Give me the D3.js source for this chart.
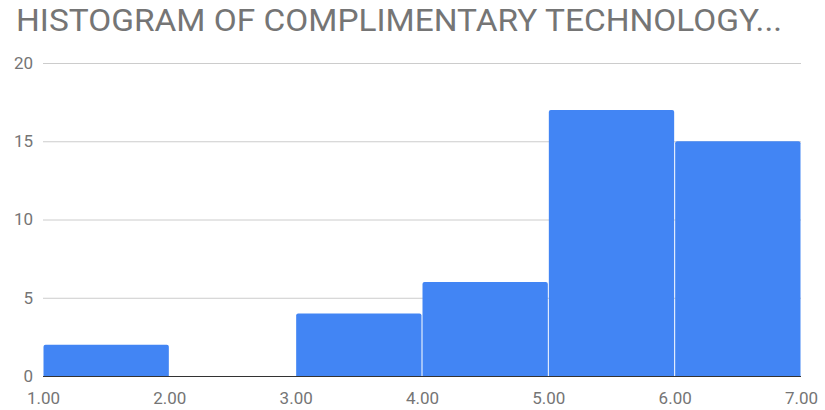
<!DOCTYPE html>
<html><head><meta charset="utf-8">
<script src="https://cdn.jsdelivr.net/npm/d3@7"></script>
<style>body{margin:0;background:#fff}svg{display:block}</style>
</head><body>
<svg id="c" width="825" height="410"></svg>
<script>
const title = "HISTOGRAM OF COMPLIMENTARY TECHNOLOGY...";
const binStarts = [1, 2, 3, 4, 5, 6];
const binEnds = [2, 3, 4, 5, 6, 7];
const counts = [2, 0, 4, 6, 17, 15];
const yTicks = [0, 5, 10, 15, 20];
const xTicks = [1, 2, 3, 4, 5, 6, 7];

const svg = d3.select("#c");
const x = d3.scaleLinear().domain([1, 7]).range([43, 801]);
const y = d3.scaleLinear().domain([0, 20]).range([376, 63]);
const font = "Roboto, 'Noto Sans', sans-serif";

svg.append("text").attr("x", 16).attr("y", 31)
  .attr("font-family", font).attr("font-size", 32).attr("fill", "#757575")
  .attr("textLength", 766).attr("lengthAdjust", "spacingAndGlyphs")
  .text(title);

const yAxis = svg.append("g").attr("transform", "translate(43,0)")
  .call(d3.axisLeft(y).tickValues(yTicks).tickSize(-758).tickFormat(d3.format("d")));
yAxis.select(".domain").remove();
yAxis.selectAll(".tick line").attr("stroke", "#cccccc").attr("stroke-width", 1);
yAxis.selectAll(".tick text").attr("x", -10).attr("fill", "#757575")
  .attr("font-family", font).attr("font-size", 17);

const r = 2;
svg.append("g").selectAll("path").data(counts.map((c, i) => ({c, s: binStarts[i], e: binEnds[i]})).filter(d => d.c > 0))
  .join("path")
  .attr("fill", "#4285f4")
  .attr("d", d => {
    const x0 = x(d.s) + 0.5, x1 = x(d.e) - 0.5, y0 = y(d.c), yb = y(0);
    return `M${x0},${yb}V${y0 + r}Q${x0},${y0} ${x0 + r},${y0}H${x1 - r}Q${x1},${y0} ${x1},${y0 + r}V${yb}Z`;
  });

svg.append("line").attr("x1", x(1)).attr("x2", x(7)).attr("y1", y(0) + 0.5).attr("y2", y(0) + 0.5)
  .attr("stroke", "#333333").attr("stroke-width", 1);

const xAxis = svg.append("g").attr("transform", `translate(0,${y(0)})`)
  .call(d3.axisBottom(x).tickValues(xTicks).tickSize(0).tickFormat(d3.format(".2f")));
xAxis.select(".domain").remove();
xAxis.selectAll(".tick text").attr("dy", 0).attr("y", 28).attr("fill", "#757575")
  .attr("font-family", font).attr("font-size", 17);
</script>
</body></html>
